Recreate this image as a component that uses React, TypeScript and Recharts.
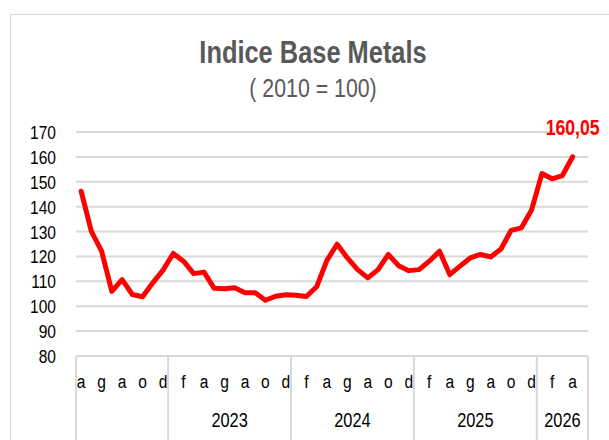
import React from 'react';
import { LineChart, Line, XAxis, YAxis, CartesianGrid, LabelList } from 'recharts';

// Italian month initials (gennaio ... dicembre)
const monthLetters = ['g', 'f', 'm', 'a', 'm', 'g', 'l', 'a', 's', 'o', 'n', 'd'];

// months covered for each year (0 = January); label '' = no year label
const yearSpans = [
  { year: 2022, from: 3, to: 11, label: '' },
  { year: 2023, from: 0, to: 11, label: '2023' },
  { year: 2024, from: 0, to: 11, label: '2024' },
  { year: 2025, from: 0, to: 11, label: '2025' },
  { year: 2026, from: 0, to: 4, label: '2026' },
];

// index values, April 2022 -> April 2026 (May 2026 not yet available)
const values: (number | null)[] = [
  146.2, 130.1, 122.1, 106.0, 110.7, 104.7, 103.8, 109.4, 114.5,
  121.2, 118.1, 113.1, 113.7, 107.2, 107.0, 107.4, 105.4, 105.4, 102.4, 104.0, 104.6,
  104.4, 103.9, 107.8, 118.4, 124.9, 119.4, 114.7, 111.4, 114.7, 120.8, 116.3, 114.3,
  114.7, 118.1, 122.1, 112.7, 116.1, 119.4, 120.8, 119.8, 123.0, 130.5, 131.5, 138.8,
  153.3, 151.2, 152.5, 160.05, null,
];

const yTicks = [80, 90, 100, 110, 120, 130, 140, 150, 160, 170];

// narrow look: Arial metrics squeezed horizontally
const FONT = "'Liberation Sans', Arial, sans-serif";
const NARROW = 0.82;
const GRID = '#d9d9d9';

type Row = { key: string; year: number; letter: string; value: number | null };

const data: Row[] = [];
const yearRange: Record<number, { first: number; last: number; label: string }> = {};
yearSpans.forEach((s) => {
  const first = data.length;
  for (let m = s.from; m <= s.to; m++) {
    data.push({
      key: `${s.year}-${m + 1}`,
      year: s.year,
      letter: monthLetters[m],
      value: values[data.length] ?? null,
    });
  }
  yearRange[s.year] = { first, last: data.length - 1, label: s.label };
});

const lastIdx = values.reduce<number>((acc, v, i) => (v != null ? i : acc), 0);

function NText({ x, y, size, children, anchor = 'middle', fill = '#000', bold = false }: any) {
  return (
    <text
      transform={`translate(${x},${y}) scale(${NARROW},1)`}
      textAnchor={anchor}
      fontSize={size}
      fontWeight={bold ? 'bold' : 'normal'}
      fontFamily={FONT}
      fill={fill}
    >
      {children}
    </text>
  );
}

function MonthTick(props: any) {
  const { x, y, payload, index } = props;
  const i: number = index;
  const row = data[i];
  if (!row) return null;
  const half: number = payload?.offset ?? 0;
  const r = yearRange[row.year];
  const mid = Math.floor((r.first + r.last) / 2);
  return (
    <g>
      {i % 2 === 0 && (
        <NText x={x} y={y + 32} size={19}>
          {row.letter}
        </NText>
      )}
      {i === r.first && (
        <line x1={x - half} x2={x - half} y1={y} y2={y + 90} stroke={GRID} strokeWidth={2} />
      )}
      {i === data.length - 1 && (
        <line x1={x + half} x2={x + half} y1={y} y2={y + 90} stroke={GRID} strokeWidth={2} />
      )}
      {r.label && i === mid && (
        <NText x={x + ((r.first + r.last) % 2 ? half : 0)} y={y + 71} size={20}>
          {r.label}
        </NText>
      )}
    </g>
  );
}

function ValueTick(props: any) {
  const { x, y, payload } = props;
  return (
    <NText x={x - 1} y={y + 7} size={19} anchor="end">
      {payload.value}
    </NText>
  );
}

function LastLabel(props: any) {
  const { x, y, index, value } = props;
  if (index !== lastIdx || value == null) return null;
  return (
    <NText x={x} y={y - 22} size={21.5} bold fill="#ff0000">
      {Number(value).toFixed(2).replace('.', ',')}
    </NText>
  );
}

export default function App() {
  return (
    <div style={{ position: 'fixed', left: 0, top: 0, width: 609, height: 440, overflow: 'hidden', background: '#fff' }}>
      <div
        style={{
          position: 'absolute',
          left: 10,
          top: 14,
          width: 700,
          height: 600,
          border: `1.5px solid ${GRID}`,
        }}
      />
      <svg width={609} height={110} style={{ position: 'absolute', left: 0, top: 0 }}>
        <NText x={313} y={63} size={31} bold fill="#595959">
          Indice Base Metals
        </NText>
        <NText x={313} y={97} size={26} fill="#595959">
          ( 2010 = 100)
        </NText>
      </svg>
      <div style={{ position: 'absolute', left: 0, top: 0 }}>
        <LineChart width={609} height={440} data={data} margin={{ top: 132, right: 21, bottom: 0, left: 16 }}>
          <CartesianGrid vertical={false} stroke={GRID} strokeWidth={2} />
          <XAxis
            dataKey="key"
            scale="band"
            interval={0}
            height={84}
            tickSize={0}
            tickMargin={0}
            tickLine={false}
            axisLine={{ stroke: GRID, strokeWidth: 2 }}
            tick={<MonthTick />}
          />
          <YAxis
            domain={[80, 170]}
            ticks={yTicks}
            interval={0}
            width={60}
            tickLine={false}
            axisLine={false}
            tickMargin={13}
            tick={<ValueTick />}
          />
          <Line
            type="linear"
            dataKey="value"
            stroke="#ff0000"
            strokeWidth={5}
            strokeLinejoin="round"
            strokeLinecap="round"
            dot={false}
            isAnimationActive={false}
          >
            <LabelList dataKey="value" content={<LastLabel />} />
          </Line>
        </LineChart>
      </div>
    </div>
  );
}
